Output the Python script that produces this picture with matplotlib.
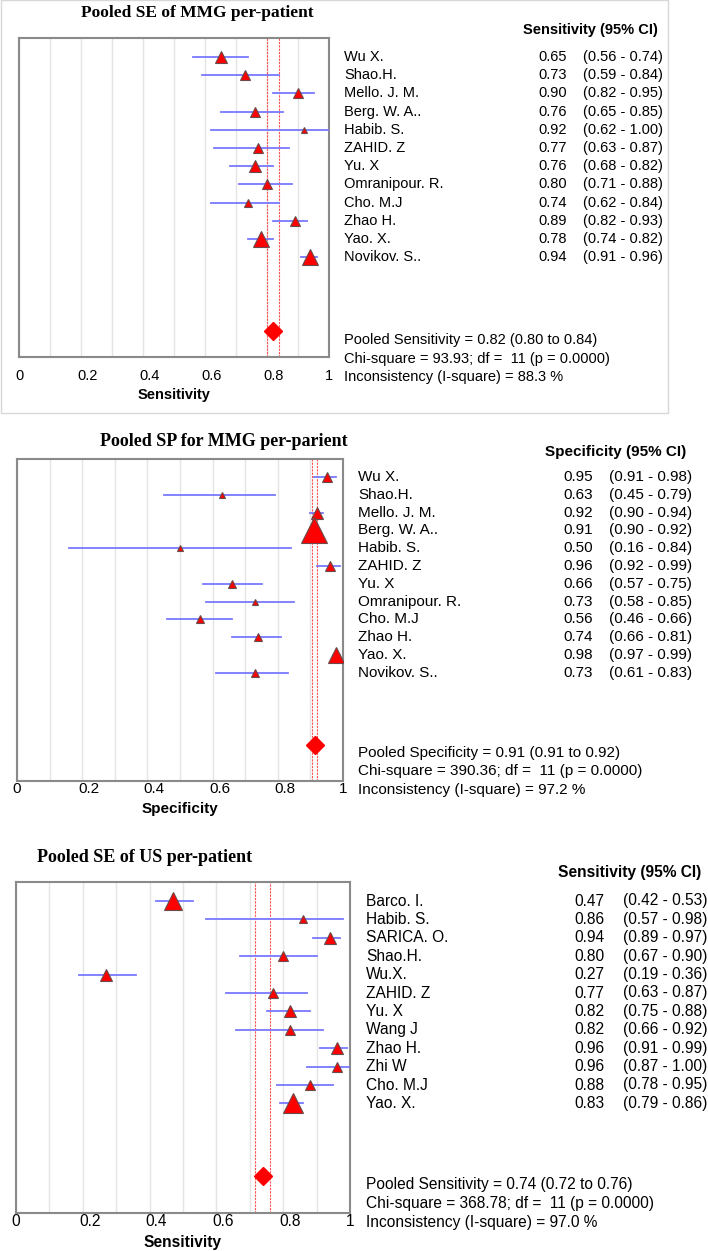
import numpy as np
import matplotlib
matplotlib.use("Agg")
import matplotlib.pyplot as plt
import matplotlib.transforms as mtransforms
from matplotlib.patches import Rectangle

# ---------------- data ----------------
p1_title = "Pooled SE of MMG per-patient"
p1_header = "Sensitivity (95% CI)"
p1_xlabel = "Sensitivity"
p1_names = ["Wu X.", "Shao.H.", "Mello. J. M.", "Berg. W. A..", "Habib. S.", "ZAHID. Z",
            "Yu. X", "Omranipour. R.", "Cho. M.J", "Zhao H.", "Yao. X.", "Novikov. S.."]
p1_est = [0.65, 0.73, 0.90, 0.76, 0.92, 0.77, 0.76, 0.80, 0.74, 0.89, 0.78, 0.94]
p1_lo = [0.56, 0.59, 0.82, 0.65, 0.62, 0.63, 0.68, 0.71, 0.62, 0.82, 0.74, 0.91]
p1_hi = [0.74, 0.84, 0.95, 0.85, 1.00, 0.87, 0.82, 0.88, 0.84, 0.93, 0.82, 0.96]
p1_weight = [10, 8, 8, 8, 6, 8, 10, 9, 7, 9, 14, 14]
p1_pooled = [0.82, 0.80, 0.84]
p1_stats = ["Pooled Sensitivity = 0.82 (0.80 to 0.84)",
            "Chi-square = 93.93; df =  11 (p = 0.0000)",
            "Inconsistency (I-square) = 88.3 %"]

p2_title = "Pooled SP for MMG per-parient"
p2_header = "Specificity (95% CI)"
p2_xlabel = "Specificity"
p2_names = ["Wu X.", "Shao.H.", "Mello. J. M.", "Berg. W. A..", "Habib. S.", "ZAHID. Z",
            "Yu. X", "Omranipour. R.", "Cho. M.J", "Zhao H.", "Yao. X.", "Novikov. S.."]
p2_est = [0.95, 0.63, 0.92, 0.91, 0.50, 0.96, 0.66, 0.73, 0.56, 0.74, 0.98, 0.73]
p2_lo = [0.91, 0.45, 0.90, 0.90, 0.16, 0.92, 0.57, 0.58, 0.46, 0.66, 0.97, 0.61]
p2_hi = [0.98, 0.79, 0.94, 0.92, 0.84, 0.99, 0.75, 0.85, 0.66, 0.81, 0.99, 0.83]
p2_weight = [8, 6, 10, 22, 6, 8, 7, 6, 7, 7, 14, 7]
p2_pooled = [0.913, 0.906, 0.919]
p2_stats = ["Pooled Specificity = 0.91 (0.91 to 0.92)",
            "Chi-square = 390.36; df =  11 (p = 0.0000)",
            "Inconsistency (I-square) = 97.2 %"]

p3_title = "Pooled SE of US per-patient"
p3_header = "Sensitivity (95% CI)"
p3_xlabel = "Sensitivity"
p3_names = ["Barco. I.", "Habib. S.", "SARICA. O.", "Shao.H.", "Wu.X.", "ZAHID. Z",
            "Yu. X", "Wang J", "Zhao H.", "Zhi W", "Cho. M.J", "Yao. X."]
p3_est = [0.47, 0.86, 0.94, 0.80, 0.27, 0.77, 0.82, 0.82, 0.96, 0.96, 0.88, 0.83]
p3_lo = [0.42, 0.57, 0.89, 0.67, 0.19, 0.63, 0.75, 0.66, 0.91, 0.87, 0.78, 0.79]
p3_hi = [0.53, 0.98, 0.97, 0.90, 0.36, 0.87, 0.88, 0.92, 0.99, 1.00, 0.95, 0.86]
p3_weight = [16, 7, 11, 9, 10, 8, 11, 8, 11, 9, 9, 17]
p3_pooled = [0.74, 0.716, 0.761]
p3_stats = ["Pooled Sensitivity = 0.74 (0.72 to 0.76)",
            "Chi-square = 368.78; df =  11 (p = 0.0000)",
            "Inconsistency (I-square) = 97.0 %"]

xticks = [0, 0.2, 0.4, 0.6, 0.8, 1.0]
xticklabels = ["0", "0.2", "0.4", "0.6", "0.8", "1"]

# ---------------- figure ----------------
W, H = 708, 1251
DPI = 100
fig = plt.figure(figsize=(W / DPI, H / DPI), dpi=DPI)
fig.patch.set_facecolor("white")

SANS = ["Liberation Sans", "DejaVu Sans"]
SERIF = ["Liberation Serif", "DejaVu Serif"]


def fx(x):
    return x / W


def fy(y):
    return 1 - y / H


# light frame around first panel
fig.patches.append(Rectangle((fx(0.5), fy(413)), fx(667), 413 / H, transform=fig.transFigure,
                             fill=False, edgecolor="#d8d8d8", linewidth=1.0))


def panel(L, title, header, xlabel, names, est, lo, hi, weight, pooled, stats):
    fs = L["fs"]
    axh = L["bottom"] - L["top"]
    ax = fig.add_axes([fx(L["left"]), fy(L["bottom"]), fx(L["right"] - L["left"]), axh / H])
    ax.set_xlim(0, 1)
    ax.set_ylim(axh, 0)
    ax.set_yticks([])
    ax.set_xticks(xticks)
    ax.set_xticklabels(xticklabels, fontsize=fs, family=SANS)
    ax.set_xticks(np.arange(0.1, 1.0, 0.1), minor=True)
    ax.grid(True, which="both", axis="x", color="#e4e4e4", linewidth=1.0)
    ax.set_axisbelow(True)
    ax.tick_params(axis="x", which="both", length=0, pad=L["pad"])
    for sp in ax.spines.values():
        sp.set_color("#8a8a8a")
        sp.set_linewidth(1.5)
    off = mtransforms.ScaledTranslation(7 / DPI, 0, fig.dpi_scale_trans)
    for lab in ax.get_xticklabels():
        if lab.get_text() not in ("0", "1"):
            lab.set_transform(lab.get_transform() + off)
    ax.set_xlabel(xlabel, fontsize=fs, family=SANS, fontweight="bold", labelpad=L["lpad"])

    ys = [L["row0"] - L["top"] + i * L["step"] for i in range(len(est))]
    for i in range(len(est)):
        ax.plot([lo[i], hi[i]], [ys[i], ys[i]], color="#7878ff", linewidth=1.3, zorder=3)
        ax.plot(est[i], ys[i], marker="^", markersize=weight[i] / 1.39 * 1.15,
                markerfacecolor="#ff0000", markeredgecolor="#6a4a4a", markeredgewidth=0.8,
                linestyle="none", zorder=4)
    for v in pooled[1:]:
        ax.axvline(v, color="#ff5050", linewidth=0.8, linestyle=(0, (2, 1)), zorder=2)
    dy = L["diamond"] - L["top"]
    ax.plot(pooled[0], dy, marker="D", markersize=9, markerfacecolor="#ff0000",
            markeredgecolor="#ff0000", linestyle="none", zorder=5)

    fig.text(fx(L["title_x"]), fy(L["title_y"]), title, family=SERIF, fontweight="bold",
             fontsize=L["tfs"], ha="center", va="center")
    fig.text(fx(L["header_x"]), fy(L["header_y"]), header, family=SANS, fontweight="bold",
             fontsize=fs, ha="left", va="center")
    for i in range(len(names)):
        y = fy(L["row0"] + i * L["step"])
        fig.text(fx(L["name_x"]), y, names[i], family=SANS, fontsize=fs, ha="left", va="center")
        fig.text(fx(L["val_x"]), y, f"{est[i]:.2f}", family=SANS, fontsize=fs, ha="left", va="center")
        fig.text(fx(L["ci_x"]), y, f"({lo[i]:.2f} - {hi[i]:.2f})", family=SANS, fontsize=fs,
                 ha="left", va="center")
    for k, s in enumerate(stats):
        fig.text(fx(L["name_x"]), fy(L["stat_y0"] + k * L["stat_step"]), s, family=SANS,
                 fontsize=fs, ha="left", va="center")


L1 = dict(left=19, right=329, top=38, bottom=357, row0=57, step=18.2, diamond=331,
          title_x=197, title_y=13, header_x=523, header_y=30, name_x=344, val_x=538, ci_x=583,
          stat_y0=340, stat_step=18.5, fs=10.5, tfs=12.5, pad=9, lpad=3)
L2 = dict(left=17, right=343, top=459, bottom=781, row0=477, step=17.8, diamond=745,
          title_x=224, title_y=441, header_x=545, header_y=452, name_x=358, val_x=563, ci_x=609,
          stat_y0=753, stat_step=18.4, fs=11.0, tfs=13, pad=1, lpad=4)
L3 = dict(left=16, right=350, top=882, bottom=1213, row0=901, step=18.4, diamond=1176,
          title_x=145, title_y=857, header_x=558, header_y=873, name_x=366, val_x=574, ci_x=623,
          stat_y0=1185, stat_step=18.5, fs=11.2, tfs=13, pad=1, lpad=4)

panel(L1, p1_title, p1_header, p1_xlabel, p1_names, p1_est, p1_lo, p1_hi, p1_weight, p1_pooled, p1_stats)
panel(L2, p2_title, p2_header, p2_xlabel, p2_names, p2_est, p2_lo, p2_hi, p2_weight, p2_pooled, p2_stats)
panel(L3, p3_title, p3_header, p3_xlabel, p3_names, p3_est, p3_lo, p3_hi, p3_weight, p3_pooled, p3_stats)

fig.savefig("out.png", dpi=DPI)
